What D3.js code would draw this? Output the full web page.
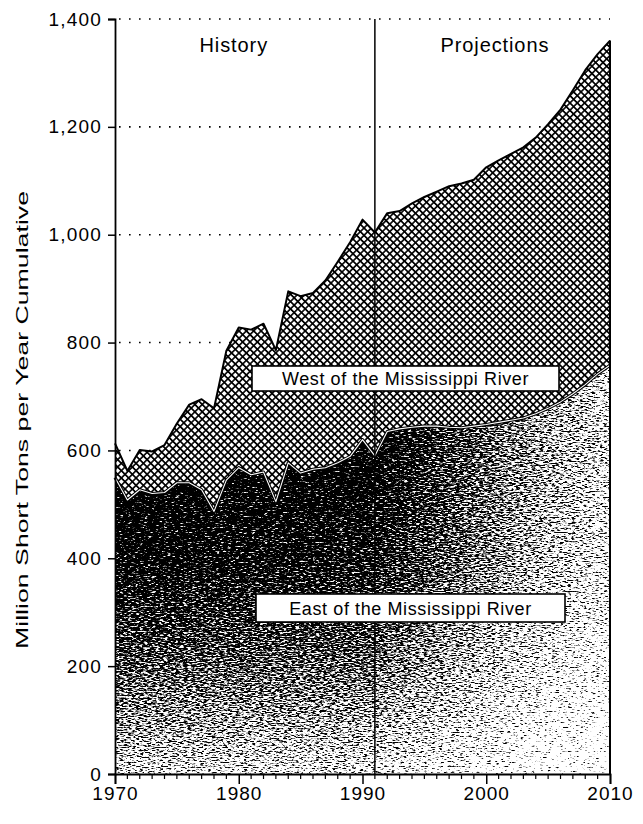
<!DOCTYPE html>
<html>
<head>
<meta charset="utf-8">
<script src="https://cdn.jsdelivr.net/npm/d3@7"></script>
<style>
  html, body { margin: 0; padding: 0; background: #fff; }
  svg { display: block; font-family: "Liberation Sans", Arial, Helvetica, sans-serif; }
</style>
</head>
<body>
<svg id="chart" width="643" height="824"></svg>
<script>
// ---------------- data ----------------
const years = d3.range(1970, 2011);
// Cumulative total (East + West), million short tons per year
const totalValues = [613, 562, 601, 598, 610, 650, 685, 695, 678, 785,
  828, 824, 835, 786, 895, 886, 892, 915, 950, 986,
  1028, 1004, 1040, 1044, 1058, 1070, 1080, 1090, 1095, 1102,
  1125, 1138, 1150, 1162, 1180, 1205, 1232, 1268, 1305, 1335, 1360];
// East of the Mississippi River
const eastValues = [550, 508, 527, 520, 522, 540, 540, 527, 487, 545,
  568, 555, 560, 505, 577, 558, 565, 568, 577, 589,
  620, 590, 635, 640, 643, 645, 645, 643, 642, 645,
  648, 652, 656, 660, 668, 678, 690, 705, 722, 742, 758];
const yTicks = [0, 200, 400, 600, 800, 1000, 1200, 1400];
const xTicks = [1970, 1980, 1990, 2000, 2010];
const dividerYear = 1991;
const periodLabels = [{text: "History", year: 1979.6}, {text: "Projections", year: 2000.7}];
const regionLabels = ["West of the Mississippi River", "East of the Mississippi River"];
const yTitle = "Million Short Tons per Year Cumulative";

// ---------------- layout ----------------
const W = 643, H = 824;
const m = {left: 115, right: 33, top: 19, bottom: 50};
const svg = d3.select("#chart");
const x = d3.scaleLinear().domain([1970, 2010]).range([m.left, W - m.right]);
const y = d3.scaleLinear().domain([0, 1400]).range([H - m.bottom, m.top]);

const data = years.map((yr, i) => ({year: yr, east: eastValues[i], total: totalValues[i]}));

const defs = svg.append("defs");
// crosshatch pattern (diamonds)
const hs = 5.2;
const hatch = defs.append("pattern").attr("id", "hatch")
  .attr("patternUnits", "userSpaceOnUse").attr("width", hs).attr("height", hs)
  .attr("patternTransform", "rotate(45)");
hatch.append("rect").attr("width", hs).attr("height", hs).attr("fill", "#fff");
hatch.append("path").attr("d", `M0,${hs/2}H${hs}M${hs/2},0V${hs}`).attr("stroke", "#000").attr("stroke-width", 1.6);

// horizontal tone gradient (dark history, lighter projections)
const grad = defs.append("linearGradient").attr("id", "eastGrad")
  .attr("gradientUnits", "userSpaceOnUse")
  .attr("x1", x(1970)).attr("y1", 0).attr("x2", x(2010)).attr("y2", 0);
[[0, 0.15], [0.5, 0.2], [0.6, 0.3], [0.75, 0.45], [0.875, 0.57], [1, 0.66]]
  .forEach(([o, g]) => grad.append("stop").attr("offset", o).attr("stop-color", d3.rgb(255 * g, 255 * g, 255 * g)));
// vertical lightening toward the bottom
const grad2 = defs.append("linearGradient").attr("id", "eastGrad2")
  .attr("gradientUnits", "userSpaceOnUse")
  .attr("x1", 0).attr("y1", y(800)).attr("x2", 0).attr("y2", y(0));
[[0, 0], [0.25, 0], [0.5, 0.1], [0.75, 0.32], [1, 0.6]]
  .forEach(([o, a]) => grad2.append("stop").attr("offset", o).attr("stop-color", "#fff").attr("stop-opacity", a));

// stipple filter: threshold (tone + noise)
const f = defs.append("filter").attr("id", "stipple").attr("x", 0).attr("y", 0).attr("width", 1).attr("height", 1)
  .attr("color-interpolation-filters", "sRGB");
f.append("feTurbulence").attr("type", "fractalNoise").attr("baseFrequency", "0.25 0.8")
  .attr("numOctaves", 3).attr("seed", 7).attr("result", "noise");
f.append("feColorMatrix").attr("in", "noise").attr("type", "matrix")
  .attr("values", "1 0 0 0 0  1 0 0 0 0  1 0 0 0 0  0 0 0 0 1").attr("result", "gnoise");
f.append("feComposite").attr("in", "SourceGraphic").attr("in2", "gnoise").attr("operator", "arithmetic")
  .attr("k1", 0).attr("k2", 1).attr("k3", 1.5).attr("k4", -0.75).attr("result", "sum");
const ct = f.append("feComponentTransfer").attr("in", "sum");
["feFuncR", "feFuncG", "feFuncB"].forEach(n => ct.append(n).attr("type", "linear").attr("slope", 4).attr("intercept", -1.5));
ct.append("feFuncA").attr("type", "linear").attr("slope", 0).attr("intercept", 1);

// shapes
const eastArea = d3.area().x(d => x(d.year)).y0(y(0)).y1(d => y(d.east));
const westArea = d3.area().x(d => x(d.year)).y0(d => y(d.east)).y1(d => y(d.total));
const totalLine = d3.line().x(d => x(d.year)).y(d => y(d.total));
const eastLine = d3.line().x(d => x(d.year)).y(d => y(d.east));
defs.append("clipPath").attr("id", "eastClip").append("path").attr("d", eastArea(data));

// ---------------- gridlines ----------------
svg.append("g").selectAll("line").data(yTicks.filter(v => v > 0)).join("line")
  .attr("x1", m.left + 4).attr("x2", W - m.right)
  .attr("y1", d => y(d)).attr("y2", d => y(d))
  .attr("stroke", "#000").attr("stroke-width", 1.6)
  .attr("stroke-dasharray", "1.6,8.4").attr("stroke-linecap", "butt");

// ---------------- areas ----------------
svg.append("path").attr("d", westArea(data)).attr("fill", "url(#hatch)");
const eg = svg.append("g").attr("clip-path", "url(#eastClip)");
const egf = eg.append("g").attr("filter", "url(#stipple)");
egf.append("rect").attr("x", m.left).attr("y", m.top).attr("width", W - m.left - m.right).attr("height", H - m.top - m.bottom)
  .attr("fill", "url(#eastGrad)");
egf.append("rect").attr("x", m.left).attr("y", m.top).attr("width", W - m.left - m.right).attr("height", H - m.top - m.bottom)
  .attr("fill", "url(#eastGrad2)");

svg.append("path").attr("d", eastLine(data)).attr("fill", "none").attr("stroke", "#000").attr("stroke-width", 3.2).attr("stroke-linejoin", "round");
svg.append("path").attr("d", eastLine(data)).attr("fill", "none").attr("stroke", "#fff").attr("stroke-width", 1.1).attr("stroke-linejoin", "round");
svg.append("path").attr("d", totalLine(data)).attr("fill", "none").attr("stroke", "#000").attr("stroke-width", 2).attr("stroke-linejoin", "round");
// right edge
svg.append("line").attr("x1", x(2010)).attr("x2", x(2010)).attr("y1", y(totalValues[totalValues.length - 1])).attr("y2", y(0))
  .attr("stroke", "#000").attr("stroke-width", 2);

// divider
svg.append("line").attr("x1", x(dividerYear)).attr("x2", x(dividerYear)).attr("y1", y(1400)).attr("y2", y(0))
  .attr("stroke", "#000").attr("stroke-width", 1.5);

// ---------------- axes ----------------
const yAxis = svg.append("g").attr("transform", `translate(${m.left},0)`)
  .call(d3.axisLeft(y).tickValues(yTicks).tickFormat(d3.format(",")).tickSize(7).tickPadding(6));
yAxis.select(".domain").attr("stroke-width", 1.8);
yAxis.selectAll(".tick line").attr("stroke-width", 1.5);
yAxis.selectAll("text").attr("font-size", 19).attr("letter-spacing", "1.2px").attr("fill", "#000");

const xAxis = svg.append("g").attr("transform", `translate(0,${y(0)})`)
  .call(d3.axisBottom(x).tickValues(xTicks).tickFormat(d3.format("d")).tickSize(10).tickPadding(3));
xAxis.select(".domain").attr("stroke-width", 1.8);
xAxis.selectAll(".tick line").attr("stroke-width", 1.5);
xAxis.selectAll("text").attr("font-size", 19).attr("letter-spacing", "1px").attr("fill", "#000");
// minor ticks each year
svg.append("g").selectAll("line").data(years.filter(v => v % 10 !== 0)).join("line")
  .attr("x1", d => x(d)).attr("x2", d => x(d)).attr("y1", y(0)).attr("y2", y(0) + 5)
  .attr("stroke", "#000").attr("stroke-width", 1.2);

// y title
svg.append("text").attr("transform", `translate(28,${420}) rotate(-90)`)
  .attr("text-anchor", "middle").attr("font-size", 17).attr("fill", "#000")
  .attr("textLength", 458).attr("lengthAdjust", "spacingAndGlyphs").text(yTitle);

// period labels
svg.append("g").selectAll("text").data(periodLabels).join("text")
  .attr("x", d => x(d.year)).attr("y", 52).attr("text-anchor", "middle")
  .attr("font-size", 20).attr("letter-spacing", "0.9px").attr("fill", "#000").text(d => d.text);

// region label boxes
const boxes = [
  {text: regionLabels[0], x0: 252, x1: 559, y0: 366, y1: 391},
  {text: regionLabels[1], x0: 256, x1: 565, y0: 594, y1: 622}
];
const bg = svg.append("g").selectAll("g").data(boxes).join("g");
bg.append("rect").attr("x", d => d.x0).attr("y", d => d.y0).attr("width", d => d.x1 - d.x0).attr("height", d => d.y1 - d.y0)
  .attr("fill", "#fff").attr("stroke", "#000").attr("stroke-width", 1.6);
bg.append("text").attr("x", d => (d.x0 + d.x1) / 2).attr("y", d => (d.y0 + d.y1) / 2 + 6.5)
  .attr("text-anchor", "middle").attr("font-size", 18).attr("letter-spacing", "0.6px").attr("fill", "#000").text(d => d.text);
</script>
</body>
</html>
